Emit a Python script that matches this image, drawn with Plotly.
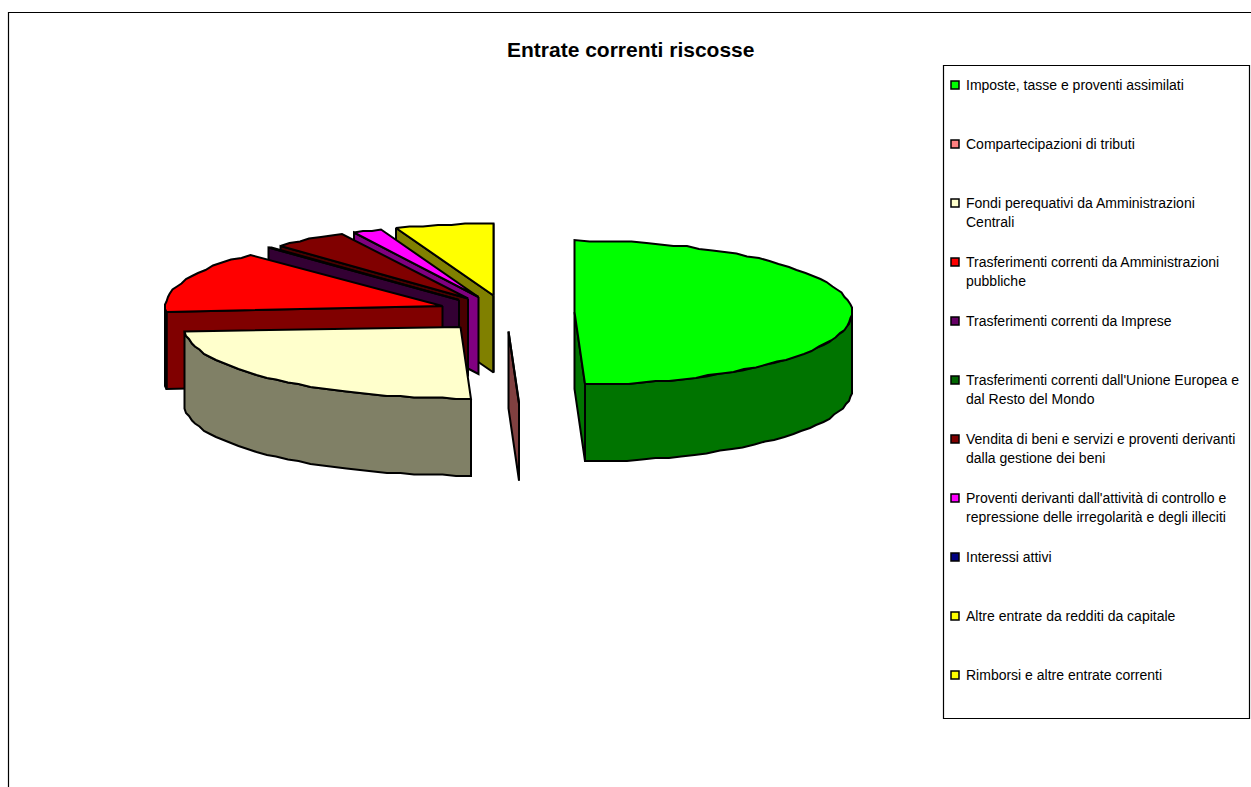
import numpy as np
import plotly.graph_objects as go

# Share of current revenue collected, in percent, one entry per category
categories = [
    "Imposte, tasse e proventi assimilati",
    "Compartecipazioni di tributi",
    "Fondi perequativi da Amministrazioni Centrali",
    "Trasferimenti correnti da Amministrazioni pubbliche",
    "Trasferimenti correnti da Imprese",
    "Trasferimenti correnti dall'Unione Europea e dal Resto del Mondo",
    "Vendita di beni e servizi e proventi derivanti dalla gestione dei beni",
    "Proventi derivanti dall'attività di controllo e repressione delle irregolarità e degli illeciti",
    "Interessi attivi",
    "Altre entrate da redditi da capitale",
    "Rimborsi e altre entrate correnti",
]
shares = [49.4, 0.06, 24.25, 14.14, 0.3, 0.0, 4.4, 1.7, 0.0, 0.0, 5.75]

# Legend text, wrapped the way it is printed
legend_lines = [
    ["Imposte, tasse e proventi assimilati"],
    ["Compartecipazioni di tributi"],
    ["Fondi perequativi da Amministrazioni", "Centrali"],
    ["Trasferimenti correnti da Amministrazioni", "pubbliche"],
    ["Trasferimenti correnti da Imprese"],
    ["Trasferimenti correnti dall'Unione Europea e", "dal Resto del Mondo"],
    ["Vendita di beni e servizi e proventi derivanti", "dalla gestione dei beni"],
    ["Proventi derivanti dall'attività di controllo e", "repressione delle irregolarità e degli illeciti"],
    ["Interessi attivi"],
    ["Altre entrate da redditi da capitale"],
    ["Rimborsi e altre entrate correnti"],
]

top_colors = ["#00FF00", "#FF8080", "#FFFFCC", "#FF0000", "#660066", "#006600",
              "#800000", "#FF00FF", "#000080", "#FFFF00", "#FFFF00"]
wall_colors = ["#007400", "#804040", "#808066", "#800000", "#330033", "#003300",
               "#4A0000", "#800080", "#000040", "#808000", "#808000"]

TITLE = "Entrate correnti riscosse"

# Projection of the tilted, exploded pie onto the page
CX, CY = 506.5, 313.0
RX, RY = 277.0, 72.0
EXPLODE = 68.5 / 277.0
DEPTH = 77.0
GRID = 1.5           # vertices snap to a coarse grid, as in low-resolution vector output
STEP = np.radians(3.0)


def project(theta, radius, apex):
    x = apex[0] + RX * radius * np.sin(theta)
    y = apex[1] - RY * radius * np.cos(theta)
    return np.round(x / GRID) * GRID, np.round(y / GRID) * GRID


def arc(a, b):
    n = max(2, int(np.ceil((b - a) / STEP)) + 1)
    return np.linspace(a, b, n)


def polygon(xs, ys, color, name):
    return go.Scatter(
        x=list(xs) + [xs[0]], y=list(ys) + [ys[0]],
        mode="lines", fill="toself", fillcolor=color,
        line=dict(color="black", width=2, simplify=False),
        name=name, hoverinfo="skip", showlegend=False,
    )


def slice_traces(a, b, top, wall, name):
    """Walls facing the viewer first, then the top face of one slice."""
    mid = (a + b) / 2
    apex = (CX + RX * EXPLODE * np.sin(mid), CY - RY * EXPLODE * np.cos(mid))
    traces = []

    # Cut faces: the start edge faces the viewer on the left half, the end edge on the right
    for edge, visible in ((a, np.sin(a) < 0), (b, np.sin(b) > 0)):
        if visible:
            ox, oy = project(edge, 1.0, apex)
            ax, ay = project(edge, 0.0, apex)
            traces.append(polygon([ax, ox, ox, ax], [ay, oy, oy + DEPTH, ay + DEPTH], wall, name))

    # Rim: only the part on the near side of the ellipse
    lo, hi = max(a, np.pi / 2), min(b, 3 * np.pi / 2)
    if hi > lo:
        t = arc(lo, hi)
        rx_, ry_ = project(t, 1.0, apex)
        traces.append(polygon(np.r_[rx_, rx_[::-1]], np.r_[ry_, ry_[::-1] + DEPTH], wall, name))

    # Top face
    t = arc(a, b)
    tx, ty = project(t, 1.0, apex)
    ax, ay = project(a, 0.0, apex)
    traces.append(polygon(np.r_[ax, tx], np.r_[ay, ty], top, name))
    return traces


values = np.array(shares, dtype=float)
edges = np.r_[0.0, np.cumsum(values)] / values.sum() * 2 * np.pi

fig = go.Figure()

# Painter's order: the far slices on the left go first, the right half last
order = list(range(len(values) - 1, 1, -1)) + [1, 0]
for i in order:
    if values[i] <= 0:
        continue
    for tr in slice_traces(edges[i], edges[i + 1], top_colors[i], wall_colors[i], categories[i]):
        fig.add_trace(tr)

# Legend drawn row by row so the even spacing of the box is kept
LEG_X0, LEG_X1, LEG_Y0, LEG_Y1 = 943.5, 1249.5, 65.5, 718.5
ROW_TOP, ROW_STEP, LINE_STEP = 85.0, 59.0, 18.7
SWATCH_X, TEXT_X = 955.0, 966.0
FONT = "Liberation Sans, Arial, sans-serif"

row_y = [ROW_TOP + ROW_STEP * i for i in range(len(categories))]
fig.add_trace(go.Scatter(
    x=[SWATCH_X] * len(categories), y=row_y, mode="markers",
    marker=dict(symbol="square", size=8, color=top_colors, line=dict(color="black", width=1.5)),
    hoverinfo="skip", showlegend=False, name="legenda",
))

annotations = [dict(
    x=630, y=49, xref="x", yref="y", text=f"<b>{TITLE}</b>", showarrow=False,
    xanchor="center", yanchor="middle",
    font=dict(family=FONT, size=21, color="black"),
)]
for y, lines in zip(row_y, legend_lines):
    for k, line in enumerate(lines):
        annotations.append(dict(
            x=TEXT_X, y=y + k * LINE_STEP, xref="x", yref="y", text=line, showarrow=False,
            xanchor="left", yanchor="middle", xshift=-2,
            font=dict(family=FONT, size=14, color="black"),
        ))

shapes = [
    # Chart frame, running off the right and bottom of the page
    dict(type="rect", xref="x", yref="y", x0=8.5, y0=12.5, x1=1300, y1=900,
         line=dict(color="black", width=1.2), layer="below"),
    # Legend box
    dict(type="rect", xref="x", yref="y", x0=LEG_X0, y0=LEG_Y0, x1=LEG_X1, y1=LEG_Y1,
         line=dict(color="black", width=1.2), layer="below"),
]

fig.update_layout(
    width=1251, height=787, margin=dict(l=0, r=0, t=0, b=0),
    paper_bgcolor="white", plot_bgcolor="white", showlegend=False,
    xaxis=dict(range=[0, 1251], visible=False, fixedrange=True),
    yaxis=dict(range=[787, 0], visible=False, fixedrange=True),
    shapes=shapes, annotations=annotations,
)

fig.write_html("out.html")
